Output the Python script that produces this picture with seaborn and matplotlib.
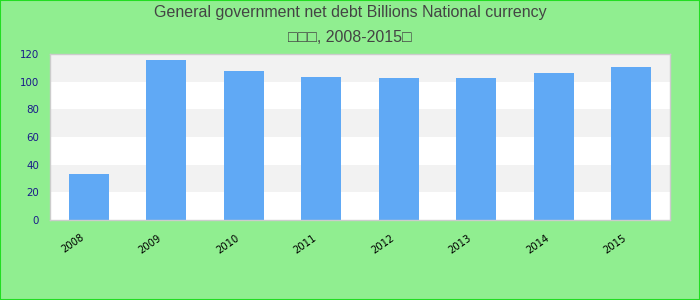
import matplotlib
matplotlib.use("Agg")
import matplotlib.pyplot as plt
import matplotlib.transforms as mtransforms
from matplotlib.patches import Rectangle
import seaborn as sns
import pandas as pd

years = ["2008", "2009", "2010", "2011", "2012", "2013", "2014", "2015"]
net_debt = [33.3, 115.5, 107.6, 103.3, 102.6, 102.6, 106.2, 110.5]
y_ticks = [0, 20, 40, 60, 80, 100, 120]
title_line1 = "General government net debt Billions National currency"
title_line2 = "\u25a1\u25a1\u25a1, 2008-2015\u25a1"

df = pd.DataFrame({"year": years, "value": net_debt})

plt.rcParams["font.family"] = ["DejaVu Sans"]

fig = plt.figure(figsize=(7, 3), dpi=100, facecolor="#90EE90")
ax = fig.add_axes([50 / 700, 80 / 300, 620 / 700, 166 / 300])
ax.set_facecolor("white")

# alternating bands
for i in range(len(y_ticks) - 1):
    if i % 2 == 1:
        ax.axhspan(y_ticks[i], y_ticks[i + 1], color="#f2f2f2", zorder=0, lw=0)

sns.barplot(data=df, x="year", y="value", color="#60a9f5", saturation=1,
            width=0.52, ax=ax, zorder=2)

ax.set_ylim(y_ticks[0], y_ticks[-1])
ax.set_xlim(-0.5, len(years) - 0.5)
ax.set_yticks(y_ticks)
ax.set_yticklabels([str(t) for t in y_ticks])
ax.set_xlabel("")
ax.set_ylabel("")
ax.grid(False)

for s in ax.spines.values():
    s.set_color("#cccccc")
    s.set_linewidth(1)

ax.tick_params(axis="y", length=0, pad=8, labelsize=7.4, labelcolor="#1a1a8a")
ax.tick_params(axis="x", length=0, pad=9, labelsize=7.2, labelcolor="black")
offset = mtransforms.ScaledTranslation(-3 / 100, 0, fig.dpi_scale_trans)
for lbl in ax.get_xticklabels():
    lbl.set_rotation(35)
    lbl.set_ha("right")
    lbl.set_transform(lbl.get_transform() + offset)

fig.text(0.5, 1 - 13 / 300, title_line1, ha="center", va="center",
         fontsize=11.5, color="#444444", family=["Liberation Sans", "DejaVu Sans"])
fig.text(0.5, 1 - 37 / 300, title_line2, ha="center", va="center",
         fontsize=11.5, color="#444444", family=["Liberation Sans", "DejaVu Sans"])

fig.patches.append(Rectangle((0, 0), 1, 1, transform=fig.transFigure,
                             fill=False, edgecolor="#22dd22", linewidth=1.5))

fig.savefig("out.png", dpi=100, facecolor=fig.get_facecolor())
